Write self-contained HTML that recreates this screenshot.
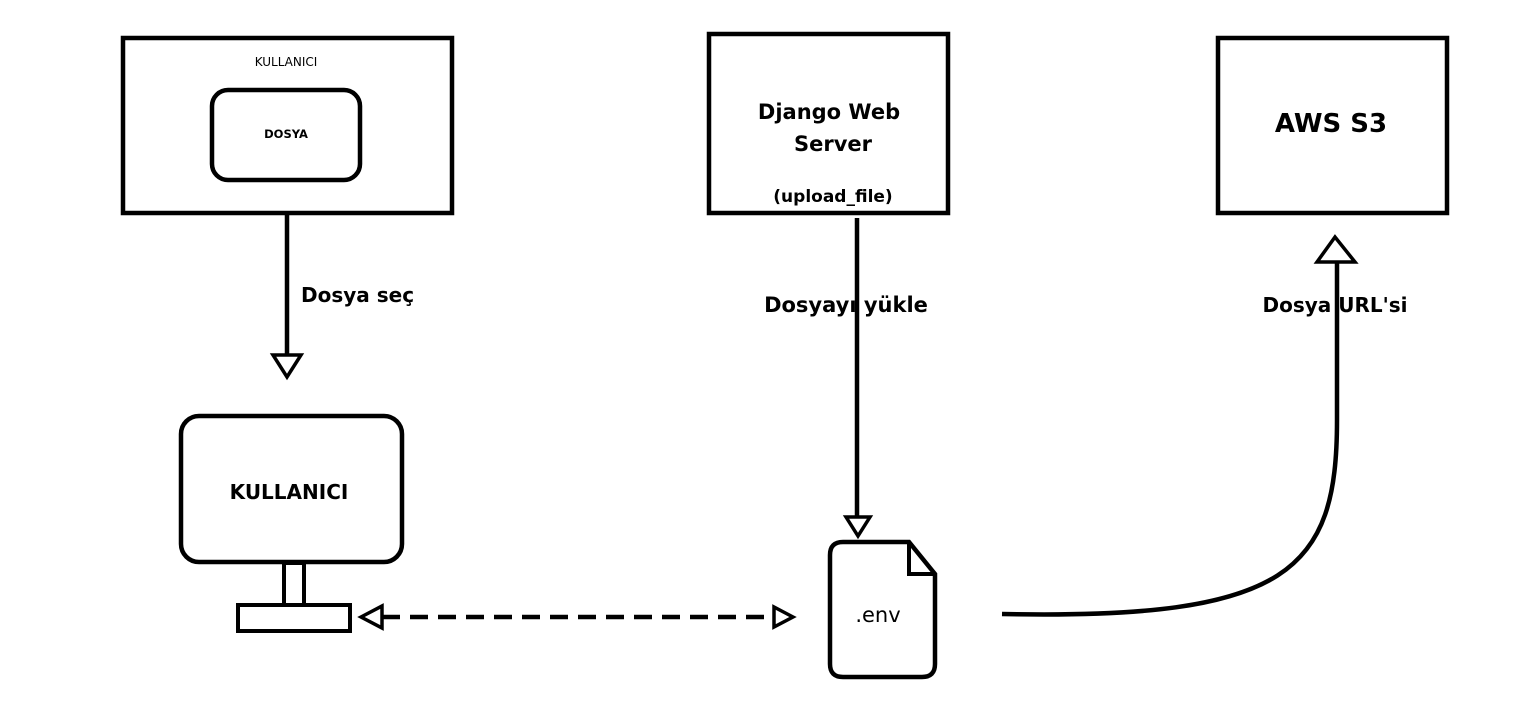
<!DOCTYPE html>
<html><head><meta charset="utf-8"><style>
html,body{margin:0;padding:0;background:#fff;}
svg{display:block;}
text{font-family:"DejaVu Sans","Liberation Sans",sans-serif;fill:#000;}
</style></head><body>
<svg width="1525" height="705" viewBox="0 0 1525 705" xmlns="http://www.w3.org/2000/svg">
<g fill="none" stroke="#000" stroke-width="4.5">
<rect x="123" y="38" width="329" height="175"/>
<rect x="212" y="90" width="148" height="90" rx="16"/>
<line x1="287" y1="214" x2="287" y2="355"/>
<polygon points="273,355 301,355 287,377" stroke-width="3.5"/>
<rect x="181" y="416" width="221" height="146" rx="18"/>
<rect x="284" y="563" width="20" height="42" stroke-width="4"/>
<rect x="238" y="605" width="112" height="26" stroke-width="4"/>
<line x1="382" y1="617" x2="775" y2="617" stroke-dasharray="18,10"/>
<polygon points="361,617 382,606 382,628" stroke-width="3.5"/>
<polygon points="793,617 774,607 774,627" stroke-width="3.5"/>
<rect x="709" y="34" width="239" height="179"/>
<line x1="857" y1="218" x2="857" y2="516"/>
<polygon points="846,517 870,517 858,536" stroke-width="3.5"/>
<path d="M909,542 L843,542 Q830,542 830,555 L830,664 Q830,677 843,677 L922,677 Q935,677 935,664 L935,574 Z"/>
<path d="M909,542 L909,574 L935,574" stroke-width="4"/>
<rect x="1218" y="38" width="229" height="175"/>
<path d="M1002,614 C1290,620 1337,570 1337,420 L1337,262"/>
<polygon points="1335,237 1317,262 1355,262" stroke-width="3.5"/>
</g>
<text x="286" y="66" font-size="12" text-anchor="middle">KULLANICI</text>
<text x="286" y="138" font-size="11.5" font-weight="bold" text-anchor="middle">DOSYA</text>
<text x="301" y="302" font-size="20" font-weight="bold">Dosya seç</text>
<text x="289" y="499" font-size="20" font-weight="bold" text-anchor="middle">KULLANICI</text>
<text x="829" y="119" font-size="21" font-weight="bold" text-anchor="middle">Django Web</text>
<text x="833" y="151" font-size="21" font-weight="bold" text-anchor="middle">Server</text>
<text x="833" y="202" font-size="17" font-weight="bold" text-anchor="middle">(upload_file)</text>
<text x="846" y="312" font-size="21" font-weight="bold" text-anchor="middle">Dosyayı yükle</text>
<text x="878" y="622" font-size="21" text-anchor="middle">.env</text>
<text x="1331" y="132" font-size="26" font-weight="bold" text-anchor="middle">AWS S3</text>
<text x="1335" y="312" font-size="20" font-weight="bold" text-anchor="middle">Dosya URL'si</text>
</svg>
</body></html>
